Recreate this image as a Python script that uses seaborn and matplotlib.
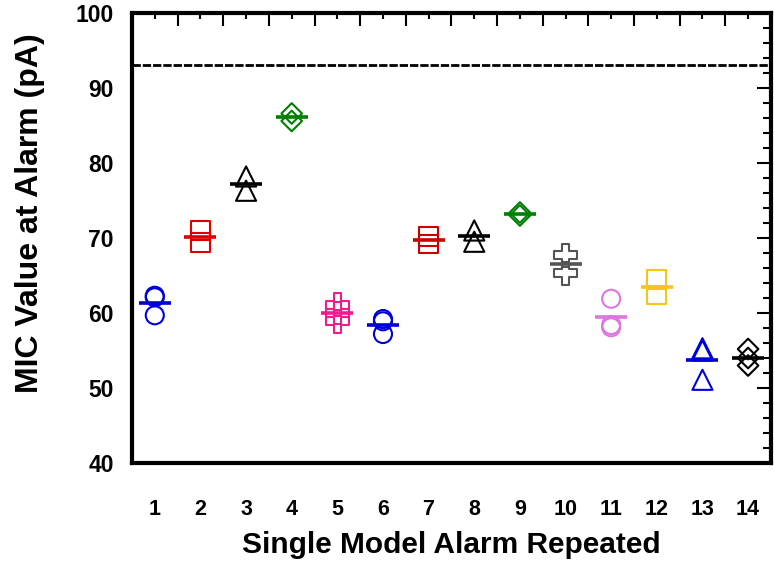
"""Repeated single-model alarm MIC readings vs. the alarm level."""

import matplotlib

matplotlib.use("Agg")
import matplotlib.pyplot as plt
from matplotlib.ticker import FixedLocator, MultipleLocator
import pandas as pd
import seaborn as sns

ALARM_LEVEL = 93.0  # dashed reference line (pA)

ALARMS = list(range(1, 15))
READINGS = [
    [62.3, 62.1, 59.7],
    [71.0, 69.4],
    [78.2, 76.3],
    [86.6, 85.6],
    [61.1, 60.0, 58.9],
    [59.2, 58.9, 57.2],
    [70.2, 69.2],
    [71.0, 69.5],
    [73.4, 73.0],
    [67.7, 65.3],
    [61.9, 58.4, 58.1],
    [64.5, 62.4],
    [55.3, 55.0, 51.1],
    [55.2, 54.0, 53.0],
]
COLORS = [
    "#0000dd", "#e00000", "#000000", "#008000", "#ee1c8c", "#0000dd", "#cc0000",
    "#000000", "#008000", "#555555", "#dd77dd", "#f5c518", "#0000dd", "#000000",
]
MARKERS = ["o", "s", "^", "D", "P", "o", "s", "^", "D", "P", "o", "s", "^", "D"]
MARKER_SIZE = {"o": 13, "s": 13.5, "^": 14.5, "D": 10.5, "P": 16.5}


def main() -> int:
    rows = [
        {"alarm": a, "mic": v}
        for a, vals in zip(ALARMS, READINGS)
        for v in vals
    ]
    df = pd.DataFrame(rows)
    means = df.groupby("alarm")["mic"].mean()

    sns.set_theme(style="white")
    plt.rcParams["font.family"] = ["Liberation Sans", "DejaVu Sans"]
    plt.rcParams["font.weight"] = "bold"
    plt.rcParams["text.color"] = "black"
    plt.rcParams["axes.labelcolor"] = "black"
    plt.rcParams["xtick.color"] = "black"
    plt.rcParams["ytick.color"] = "black"

    fig, ax = plt.subplots(figsize=(7.74, 5.64), dpi=100)
    fig.subplots_adjust(left=0.1705, right=0.996, top=0.977, bottom=0.179)

    for alarm, col, mk in zip(ALARMS, COLORS, MARKERS):
        sub = df[df["alarm"] == alarm]
        sns.scatterplot(
            data=sub, x="alarm", y="mic", marker=mk, s=MARKER_SIZE[mk] ** 2,
            color=col, facecolor="none", edgecolor=col, linewidth=1.5,
            ax=ax, legend=False, zorder=3,
        )

    # mean bar per alarm
    ax.hlines(means.values, means.index - 0.35, means.index + 0.35,
              colors=COLORS, linewidth=2.6, zorder=4)
    ax.axhline(ALARM_LEVEL, color="black", linewidth=2.0, linestyle=(0, (3, 0.7)))

    ax.set_xlim(0.5, 14.5)
    ax.set_ylim(40, 100)
    ax.set_xticks(ALARMS)
    ax.xaxis.set_minor_locator(FixedLocator([a + 0.5 for a in ALARMS[:-1]]))
    ax.yaxis.set_major_locator(MultipleLocator(10))
    ax.yaxis.set_minor_locator(MultipleLocator(2))

    ax.tick_params(which="both", direction="in", top=True, right=True,
                   width=1.5, color="black")
    ax.tick_params(axis="x", which="major", length=4, pad=26, labelsize=15.5)
    ax.tick_params(axis="x", which="minor", length=9)
    ax.tick_params(axis="y", which="major", length=10, pad=13, labelsize=16.5)
    ax.tick_params(axis="y", which="minor", length=6)

    for side in ax.spines.values():
        side.set_linewidth(3)
        side.set_color("black")

    ax.set_xlabel("Single Model Alarm Repeated", fontsize=21.5, fontweight="bold",
                  va="center")
    ax.xaxis.set_label_coords(0.5, -0.182)
    ax.set_ylabel("MIC Value at Alarm (pA)", fontsize=23, fontweight="bold",
                  va="center")
    ax.yaxis.set_label_coords(-0.16, 0.556)

    fig.savefig("out.png", dpi=100)
    plt.close(fig)
    return 0


if __name__ == "__main__":
    raise SystemExit(main())
